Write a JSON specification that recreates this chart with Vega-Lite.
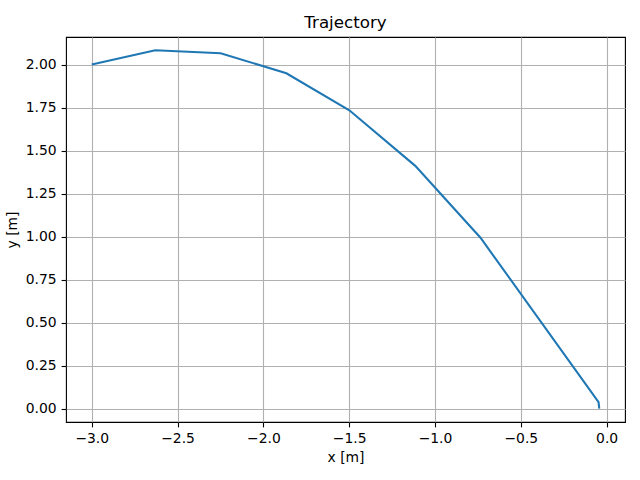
{
  "$schema": "https://vega.github.io/schema/vega-lite/v6.json",
  "width": 559,
  "height": 385,
  "autosize": "none",
  "padding": {"left": 66, "top": 37, "right": 15, "bottom": 58},
  "background": "white",
  "title": {"text": "Trajectory", "font": "DejaVu Sans", "fontSize": 16.7, "fontWeight": "normal", "color": "black", "offset": 5},
  "config": {
    "view": {"stroke": "black", "strokeWidth": 1.1},
    "axis": {
      "labelFont": "DejaVu Sans", "labelFontSize": 13.9, "labelColor": "black",
      "titleFont": "DejaVu Sans", "titleFontSize": 13.9, "titleFontWeight": "normal", "titleColor": "black",
      "tickColor": "black", "tickSize": 4.9, "tickWidth": 1.1,
      "labelPadding": 4.9, "domain": false,
      "grid": true, "gridColor": "#b0b0b0", "gridWidth": 1.1
    }
  },
  "data": {"values": [
    {"i": 0, "x": -3.0, "y": 2.0},
    {"i": 1, "x": -2.63, "y": 2.083},
    {"i": 2, "x": -2.249, "y": 2.066},
    {"i": 3, "x": -1.866, "y": 1.949},
    {"i": 4, "x": -1.499, "y": 1.734},
    {"i": 5, "x": -1.115, "y": 1.411},
    {"i": 6, "x": -0.735, "y": 0.993},
    {"i": 7, "x": -0.047, "y": 0.038},
    {"i": 8, "x": -0.043, "y": 0.0}
  ]},
  "mark": {"type": "line", "color": "#1f77b4", "strokeWidth": 2.08, "clip": true},
  "encoding": {
    "order": {"field": "i", "type": "quantitative"},
    "x": {
      "field": "x", "type": "quantitative",
      "scale": {"domain": [-3.15, 0.107], "nice": false, "zero": false},
      "axis": {"values": [-3.0, -2.5, -2.0, -1.5, -1.0, -0.5, 0.0], "format": ".1f", "title": "x [m]", "titlePadding": 5}
    },
    "y": {
      "field": "y", "type": "quantitative",
      "scale": {"domain": [-0.078, 2.16], "nice": false, "zero": false},
      "axis": {"values": [0, 0.25, 0.5, 0.75, 1.0, 1.25, 1.5, 1.75, 2.0], "format": ".2f", "title": "y [m]", "titlePadding": 6}
    }
  }
}
